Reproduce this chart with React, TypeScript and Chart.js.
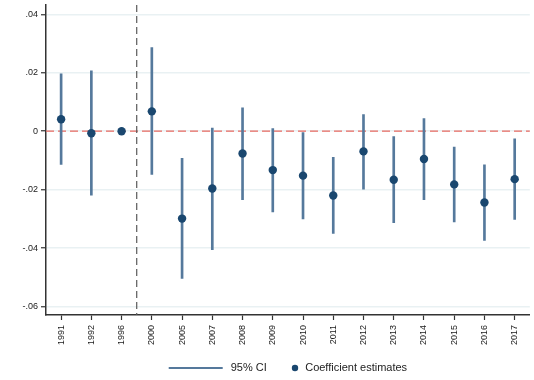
import React, { useEffect, useRef } from "react";
import { Chart, registerables } from "chart.js";

Chart.register(...registerables);

const categories = ["1991", "1992", "1996", "2000", "2005", "2007", "2008", "2009", "2010", "2011", "2012", "2013", "2014", "2015", "2016", "2017"];
const estimates = [0.0041, -0.0007, 0, 0.0068, -0.0299, -0.0196, -0.0076, -0.0133, -0.0152, -0.022, -0.0069, -0.0166, -0.0095, -0.0182, -0.0244, -0.0164];
const ciLow = [-0.0114, -0.0219, null, -0.0148, -0.0504, -0.0405, -0.0234, -0.0276, -0.03, -0.035, -0.0198, -0.0313, -0.0234, -0.031, -0.0374, -0.0302];
const ciHigh = [0.0196, 0.0207, null, 0.0286, -0.0093, 0.0011, 0.008, 0.0009, -0.0005, -0.0089, 0.0057, -0.0018, 0.0043, -0.0054, -0.0115, -0.0026];
const yTicks = [-0.06, -0.04, -0.02, 0, 0.02, 0.04];
const yTickLabels = ["-.06", "-.04", "-.02", "0", ".02", ".04"];
const legendLabels = ["95% CI", "Coefficient estimates"];
const breakAfterIndex = 2; // vertical dashed line between 1996 and 2000

const CI_COLOR = "#55799c";
const POINT_COLOR = "#1a476f";
const FONT = "'Liberation Sans', Arial, sans-serif";

const refLinesPlugin = {
  id: "refLines",
  beforeDatasetsDraw(chart: any) {
    const { ctx, chartArea, scales } = chart;
    const y0 = scales.y.getPixelForValue(0);
    const xb = (scales.x.getPixelForValue(breakAfterIndex) + scales.x.getPixelForValue(breakAfterIndex + 1)) / 2;
    ctx.save();
    ctx.lineWidth = 1.2;
    ctx.strokeStyle = "#e86a62";
    ctx.setLineDash([8, 4]);
    ctx.beginPath();
    ctx.moveTo(chartArea.left, y0);
    ctx.lineTo(chartArea.right, y0);
    ctx.stroke();
    ctx.strokeStyle = "#5a5a5a";
    ctx.lineWidth = 1.2;
    ctx.setLineDash([7, 4]);
    ctx.beginPath();
    ctx.moveTo(xb, chartArea.top);
    ctx.lineTo(xb, chartArea.bottom);
    ctx.stroke();
    ctx.restore();
  },
};

const legendPlugin = {
  id: "customLegend",
  afterDraw(chart: any) {
    const { ctx, chartArea } = chart;
    ctx.save();
    ctx.font = `11px ${FONT}`;
    ctx.textBaseline = "middle";
    const lineW = 54;
    const gap1 = 8;
    const gap2 = 25;
    const dotR = 3.2;
    const gap3 = 7;
    const t1 = ctx.measureText(legendLabels[0]).width;
    const t2 = ctx.measureText(legendLabels[1]).width;
    const total = lineW + gap1 + t1 + gap2 + dotR * 2 + gap3 + t2;
    let x = (chartArea.left + chartArea.right) / 2 - total / 2;
    const y = 368;
    ctx.strokeStyle = CI_COLOR;
    ctx.lineWidth = 2;
    ctx.beginPath();
    ctx.moveTo(x, y);
    ctx.lineTo(x + lineW, y);
    ctx.stroke();
    x += lineW + gap1;
    ctx.fillStyle = "#222";
    ctx.fillText(legendLabels[0], x, y);
    x += t1 + gap2;
    ctx.fillStyle = POINT_COLOR;
    ctx.beginPath();
    ctx.arc(x + dotR, y, dotR, 0, Math.PI * 2);
    ctx.fill();
    x += dotR * 2 + gap3;
    ctx.fillStyle = "#222";
    ctx.fillText(legendLabels[1], x, y);
    ctx.restore();
  },
};

export default function App() {
  const canvasRef = useRef<HTMLCanvasElement | null>(null);

  useEffect(() => {
    if (!canvasRef.current) return;
    const chart = new Chart(canvasRef.current, {
      type: "bar",
      data: {
        labels: categories,
        datasets: [
          {
            type: "line",
            label: legendLabels[1],
            data: estimates,
            showLine: false,
            pointRadius: 4.2,
            pointHoverRadius: 4.2,
            pointBackgroundColor: POINT_COLOR,
            pointBorderWidth: 0,
            borderColor: POINT_COLOR,
            order: 0,
          } as any,
          {
            type: "bar",
            label: legendLabels[0],
            data: ciLow.map((l, i) => (l == null || ciHigh[i] == null ? null : [l, ciHigh[i]])) as any,
            backgroundColor: CI_COLOR,
            borderWidth: 0,
            barThickness: 2,
            grouped: false,
            order: 1,
          } as any,
        ],
      },
      options: {
        responsive: true,
        maintainAspectRatio: false,
        animation: false,
        layout: { padding: { top: 5, right: 3, bottom: 30, left: 0 } },
        plugins: {
          legend: { display: false },
          tooltip: { enabled: false },
        },
        scales: {
          x: {
            type: "category",
            offset: true,
            grid: {
              display: true,
              offset: false,
              drawOnChartArea: false,
              drawTicks: true,
              tickLength: 5,
              tickColor: "#333",
              tickWidth: 1.2,
            },
            border: { display: true, color: "#333", width: 1.5 },
            ticks: {
              minRotation: 90,
              maxRotation: 90,
              autoSkip: false,
              padding: 5,
              color: "#1a1a1a",
              font: { family: FONT, size: 9 },
            },
            afterFit(scale: any) {
              scale.height = 35;
              scale.paddingLeft = 0;
              scale.paddingRight = 0;
            },
          },
          y: {
            type: "linear",
            min: -0.0629,
            max: 0.0432,
            afterBuildTicks(scale: any) {
              scale.ticks = yTicks.map((v) => ({ value: v }));
            },
            grid: {
              color: "#e9f1f3",
              lineWidth: 1.5,
              drawTicks: true,
              tickLength: 5,
              tickColor: "#333",
              tickWidth: 1.2,
            },
            border: { display: true, color: "#333", width: 1.5 },
            ticks: {
              padding: 3,
              color: "#1a1a1a",
              font: { family: FONT, size: 9 },
              callback: (value: any) => {
                const idx = yTicks.findIndex((t) => Math.abs(t - Number(value)) < 1e-9);
                return idx >= 0 ? yTickLabels[idx] : "";
              },
            },
            afterFit(scale: any) {
              scale.width = 46;
              scale.paddingTop = 0;
              scale.paddingBottom = 0;
            },
          },
        },
      },
      plugins: [refLinesPlugin, legendPlugin],
    });
    return () => chart.destroy();
  }, []);

  return (
    <div style={{ position: "fixed", left: 0, top: 0, width: 534, height: 380, background: "#fff" }}>
      <canvas ref={canvasRef} />
    </div>
  );
}
